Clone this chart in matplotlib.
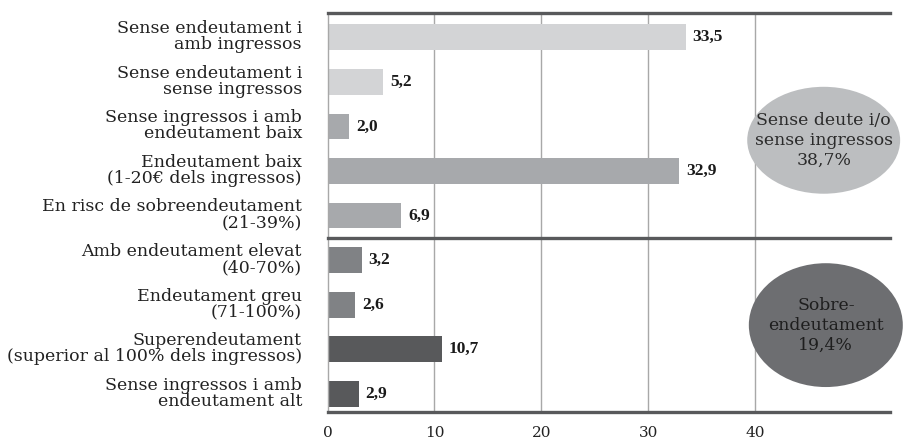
import matplotlib
matplotlib.use("Agg")
import matplotlib.pyplot as plt
import matplotlib.transforms as mtransforms
from matplotlib.patches import Ellipse

categories = [
    "Sense endeutament i\namb ingressos",
    "Sense endeutament i\nsense ingressos",
    "Sense ingressos i amb\nendeutament baix",
    "Endeutament baix\n(1-20€ dels ingressos)",
    "En risc de sobreendeutament\n(21-39%)",
    "Amb endeutament elevat\n(40-70%)",
    "Endeutament greu\n(71-100%)",
    "Superendeutament\n(superior al 100% dels ingressos)",
    "Sense ingressos i amb\nendeutament alt",
]
values = [33.5, 5.2, 2.0, 32.9, 6.9, 3.2, 2.6, 10.7, 2.9]
bar_colors = ["#d3d4d6", "#d3d4d6", "#a7a9ac", "#a7a9ac", "#a7a9ac",
              "#808285", "#808285", "#58595b", "#58595b"]
x_ticks = [0, 10, 20, 30, 40]

group_labels = ["Sense deute i/o\nsense ingressos\n38,7%", "Sobre-\nendeutament\n19,4%"]
group_colors = ["#bcbec0", "#6d6e71"]
group_text_colors = ["#2b2b2b", "#1e1e1e"]

serif = ["DejaVu Serif"]
bold_serif = ["Liberation Serif"]

fig = plt.figure(figsize=(9.05, 4.42), dpi=100)
ax = fig.add_axes([0.3619, 0.0679, 0.6215, 0.9020])

ypos = list(range(len(values)))
ax.barh(ypos, values, height=0.58, color=bar_colors, zorder=2)

for y, v in zip(ypos, values):
    ax.text(v + 0.65, y, f"{v:.1f}".replace(".", ","), va="center", ha="left",
            fontsize=12.5, fontweight="bold", family=bold_serif, color="#1a1a1a")

ax.set_xlim(0, 52.6)
ax.set_ylim(8.41, -0.54)

# grid and frame
for t in x_ticks[1:]:
    ax.axvline(t, color="#a8a8a8", lw=1.0, zorder=1)
for s in ["top", "right", "bottom"]:
    ax.spines[s].set_visible(False)
ax.spines["left"].set_color("#a8a8a8")
ax.spines["left"].set_linewidth(1.0)
for yl in [-0.54, 4.5, 8.41]:
    ax.axhline(yl, color="#58595b", lw=2.4, zorder=3, clip_on=False)

ax.set_yticks(ypos)
ax.set_yticklabels(categories, family=serif, fontsize=12.5, linespacing=0.93,
                   color="#222222")
ax.tick_params(axis="y", length=0, pad=18.4)
lift = mtransforms.ScaledTranslation(0, 1.5 / 72, fig.dpi_scale_trans)
for lbl in ax.get_yticklabels():
    lbl.set_transform(lbl.get_transform() + lift)

ax.set_xticks(x_ticks)
ax.set_xticklabels([str(t) for t in x_ticks], family=serif, fontsize=11,
                   color="#222222")
ax.tick_params(axis="x", length=0, pad=10)

# group bubbles
bubble_centers = [(46.4, 2.31), (46.6, 6.46)]
bubble_sizes = [(14.3, 2.4), (14.4, 2.78)]
for (cx, cy), (w, h), lab, fc, tc in zip(bubble_centers, bubble_sizes,
                                          group_labels, group_colors, group_text_colors):
    ax.add_patch(Ellipse((cx, cy), w, h, facecolor=fc, edgecolor="none",
                         zorder=4, clip_on=False))
    ax.text(cx, cy, lab, ha="center", va="center", family=serif, fontsize=12.4,
            color=tc, linespacing=1.22, zorder=5)

fig.savefig("out.png", dpi=100)
